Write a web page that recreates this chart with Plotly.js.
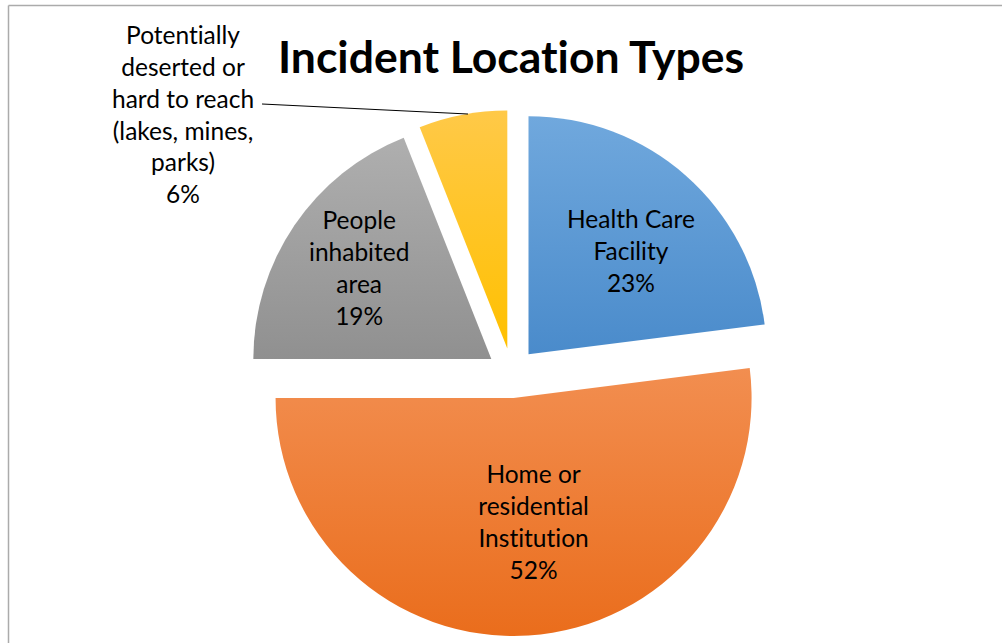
<!DOCTYPE html>
<html>
<head>
<meta charset="utf-8">
<script src="https://cdn.plot.ly/plotly-3.0.1.min.js"></script>
<style>html,body{margin:0;padding:0;background:#fff;}#chart{width:1002px;height:643px;}#chart text{font-variant-ligatures:none;font-feature-settings:"liga" 0;}</style>
</head>
<body>
<div id="chart"></div>
<script>
const categories = ["Health Care Facility", "Home or residential Institution", "People inhabited area", "Potentially deserted or hard to reach (lakes, mines, parks)"];
const labelLines = [
  ["Health Care", "Facility"],
  ["Home or", "residential", "Institution"],
  ["People", "inhabited", "area"],
  ["Potentially", "deserted or", "hard to reach", "(lakes, mines,", "parks)"]
];
const values = [23, 52, 19, 6];
const colors = ["#5B9BD5", "#ED7D31", "#A0A0A0", "#FFC324"];
const gradTop = ["#70A8DD", "#F28E50", "#AFAFAF", "#FFC948"];
const gradBottom = ["#4A8BCB", "#EA6D1C", "#909090", "#FFC000"];
const labelPos = [[631, 251], [533, 521], [359, 267], [183, 114]];

const W = 1002, H = 643;
const px = x => x / W;
const py = y => 1 - y / H;
const total = values.reduce((a, b) => a + b, 0);

const trace = {
  type: "pie",
  labels: categories,
  values: values,
  sort: false,
  direction: "clockwise",
  rotation: 0,
  pull: [0.105, 0.105, 0.105, 0.105],
  marker: { colors: colors, line: { width: 0 } },
  textinfo: "none",
  hoverinfo: "label+percent",
  showlegend: false,
  domain: { x: [249 / W, 775 / W], y: [1 - 636 / H, 1 - 110 / H] }
};

const annotations = categories.map((c, i) => ({
  text: labelLines[i].join("<br>") + "<br>" + Math.round(values[i] / total * 100) + "%",
  x: px(labelPos[i][0]), y: py(labelPos[i][1]),
  xref: "paper", yref: "paper", xanchor: "center", yanchor: "middle",
  showarrow: false, align: "center",
  font: { family: "Lato, 'Open Sans', sans-serif", size: 24.5, color: "#000" }
}));

const shapes = [
  { type: "line", xref: "paper", yref: "paper", x0: px(8.5), y0: py(5.5), x1: px(8.5), y1: py(645), line: { color: "#ABABAB", width: 1.5 } },
  { type: "line", xref: "paper", yref: "paper", x0: px(8.5), y0: py(5.5), x1: px(1004), y1: py(5.5), line: { color: "#ABABAB", width: 1.5 } },
  { type: "line", xref: "paper", yref: "paper", x0: px(262), y0: py(104), x1: px(468), y1: py(114), line: { color: "#000", width: 1.2 } }
];

const layout = {
  width: W, height: H,
  margin: { l: 0, r: 0, t: 0, b: 0 },
  paper_bgcolor: "#fff",
  title: {
    text: "Incident Location Types",
    x: 511 / W, xanchor: "center", xref: "paper",
    y: 1 - 57 / H, yanchor: "middle", yref: "container",
    font: { family: "Lato, 'Open Sans', sans-serif", size: 44.5, weight: 700, color: "#000" }
  },
  annotations: annotations,
  shapes: shapes
};

Plotly.newPlot("chart", [trace], layout, { displayModeBar: false, staticPlot: true }).then(gd => {
  // vertical gradient fills like the original chart
  const svg = gd.querySelector("svg.main-svg");
  const ns = "http://www.w3.org/2000/svg";
  let defs = svg.querySelector("defs");
  if (!defs) { defs = document.createElementNS(ns, "defs"); svg.insertBefore(defs, svg.firstChild); }
  const paths = gd.querySelectorAll("g.slice path.surface");
  paths.forEach((p, i) => {
    const g = document.createElementNS(ns, "linearGradient");
    g.setAttribute("id", "slicegrad" + i);
    g.setAttribute("x1", "0"); g.setAttribute("y1", "0");
    g.setAttribute("x2", "0"); g.setAttribute("y2", "1");
    const s0 = document.createElementNS(ns, "stop");
    s0.setAttribute("offset", "0"); s0.setAttribute("stop-color", gradTop[i]);
    const s1 = document.createElementNS(ns, "stop");
    s1.setAttribute("offset", "1"); s1.setAttribute("stop-color", gradBottom[i]);
    g.appendChild(s0); g.appendChild(s1);
    defs.appendChild(g);
    p.style.fill = "url(#slicegrad" + i + ")";
  });
});
</script>
</body>
</html>
